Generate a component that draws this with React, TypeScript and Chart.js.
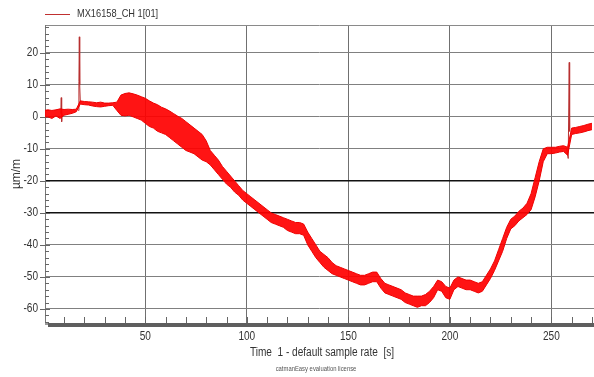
import React, { useEffect, useRef } from "react";
import { Chart, registerables } from "chart.js";

Chart.register(...registerables);

// Sample times (s)
const times = [
  0, 2, 4, 6, 8, 10, 12, 14, 16, 18, 20, 22, 24, 26, 28, 30, 32, 34, 36, 38,
  40, 42, 44, 46, 48, 50, 52, 54, 56, 58, 60, 62, 64, 66, 68, 70, 72, 74, 76, 78,
  80, 82, 84, 86, 88, 90, 92, 94, 96, 98, 100, 102, 104, 106, 108, 110, 112, 114, 116, 118,
  120, 122, 124, 126, 128, 130, 132, 134, 136, 138, 140, 142, 144, 146, 148, 150, 152, 154, 156, 158,
  160, 162, 164, 166, 168, 170, 172, 174, 176, 178, 180, 182, 184, 186, 188, 190, 192, 194, 196, 198,
  200, 202, 204, 206, 208, 210, 212, 214, 216, 218, 220, 222, 224, 226, 228, 230, 232, 234, 236, 238,
  240, 242, 244, 246, 248, 250, 252, 254, 256, 258, 260, 262, 264, 266, 268, 270,
];

// Upper envelope of the strain signal (µm/m)
const upper = [
  2, 2.2, 2, 2.2, 2.5, 2.3, 2.4, 2.3, 2.4, 5, 4.8, 4.7, 4.6, 4.4, 4.6, 4.3, 4.3, 4.4, 4.6, 6.8,
  7.3, 7.5, 7.2, 6.8, 6.3, 5.8, 5.0, 4.3, 3.8, 3.0, 2.5, 1.8, 1.0, 0.2, -0.5, -1.5, -2.5, -3.5, -4.5, -5.5,
  -7.5, -10.5, -12, -13.5, -15.5, -17, -18.5, -20, -21.5, -23, -24, -25, -26, -27, -28, -29, -30, -30.5, -31, -31.5,
  -32, -32.5, -33, -33, -33.5, -36, -38, -40, -42, -43, -44, -45.5, -46.5, -47, -47.5, -48, -48.5, -49, -49.5, -49.5,
  -49, -48.5, -48.5, -50.5, -52, -52.5, -53, -53.5, -54, -55, -55.5, -56, -56, -56, -55.5, -54.5, -53, -51, -51.5, -53,
  -53.5, -51, -50, -50.5, -51, -51, -51.5, -52, -51.5, -49.5, -47.5, -45, -41.5, -38, -34.5, -32, -31, -29.5, -28.5, -27,
  -24, -19, -14, -10, -9.5, -9.5, -9.5, -9.2, -9, -9.5, -3.5, -3.3, -3, -2.7, -2.3, -2,
];

// Lower envelope of the strain signal (µm/m)
const lower = [
  0, 0, -0.5, 0.3, -0.5, 0.5, 0.8, 1.1, 1.6, 4, 3.8, 3.7, 3.4, 3.2, 3.1, 3.3, 3.5, 3.6, 2.0, 0.5,
  0.3, 0.5, 0, -0.5, -1, -2, -3, -3.5, -4.5, -5, -5.5, -6.5, -7.5, -8.5, -9.5, -10.5, -11, -11.5, -12.5, -13.5,
  -14, -15, -16.5, -18, -19.5, -21, -22, -23.5, -24.5, -26, -27, -28, -29, -30, -31, -32, -33, -33.5, -34, -34.5,
  -35.5, -36, -36.5, -36.5, -37, -40, -42, -44, -45.5, -47, -48, -49, -49.5, -50, -50.5, -51, -51.5, -52, -52.5, -52.5,
  -52, -51.5, -51.5, -53.5, -55, -55.5, -56, -56.5, -57, -58, -58.5, -59, -59.5, -59, -59, -58, -56.5, -54, -54.5, -56.5,
  -57, -54, -53, -53.5, -54, -54, -54.5, -55, -54.5, -52.5, -50.5, -48, -45, -42, -38, -35, -34, -32.5, -31.5, -30.5,
  -29, -25, -20, -14, -11.5, -11.5, -11.3, -11, -10.8, -12, -5.5, -5.2, -5, -4.7, -4.3, -4,
];

// Short transients (spikes)
const spikeTimes = [8.4, 8.6, 8.8, 9.0, null, 17.0, 17.3, 17.5, 17.7, 18.0, null, 257.6, 258.3, 258.8, 259.0, 259.3];
const spikeValues = [1, 6, -1.5, 1, null, 2, 11, 25, 10, 4.5, null, -10, -13, 17, -4.5, -4.5];

const xTicks = [50, 100, 150, 200, 250];
const yTicks = [20, 10, 0, -10, -20, -30, -40, -50, -60];
const seriesName = "MX16158_CH 1[01]";
const xTitle = "Time  1 - default sample rate  [s]";
const yTitle = "µm/m";
const licenseText = "catmanEasy evaluation license";

const FONT = "'Liberation Sans', sans-serif";
const SQUEEZE = 0.84;

function narrowText(ctx: CanvasRenderingContext2D, text: string, x: number, y: number, align: "left" | "center" | "right") {
  ctx.save();
  ctx.translate(x, y);
  ctx.scale(SQUEEZE, 1);
  ctx.textAlign = align;
  ctx.textBaseline = "middle";
  ctx.fillText(text, 0, 0);
  ctx.restore();
}

export default function App() {
  const ref = useRef<HTMLCanvasElement | null>(null);

  useEffect(() => {
    const canvas = ref.current;
    if (!canvas) return;

    const decor = {
      id: "decor",
      beforeDatasetsDraw(chart: any) {
        const { ctx, chartArea } = chart;
        const xs = chart.scales.x;
        const ys = chart.scales.y;
        ctx.save();
        ctx.strokeStyle = "#8a8a8a";
        ctx.lineWidth = 1;
        ctx.beginPath();
        ctx.moveTo(chartArea.left, chartArea.top + 0.5);
        ctx.lineTo(chartArea.right, chartArea.top + 0.5);
        ctx.stroke();
        ctx.strokeStyle = "#777";
        ctx.beginPath();
        ctx.moveTo(chartArea.left + 0.5, chartArea.top);
        ctx.lineTo(chartArea.left + 0.5, chartArea.bottom);
        ctx.stroke();
        ctx.strokeStyle = "#666";
        for (let v = -64; v <= 28; v += 2) {
          const py = Math.round(ys.getPixelForValue(v)) + 0.5;
          const major = v % 10 === 0;
          ctx.beginPath();
          ctx.moveTo(chartArea.left - (major ? 5 : 0), py);
          ctx.lineTo(chartArea.left + (major ? 5 : 4), py);
          ctx.stroke();
        }
        for (let t = 10; t <= 270; t += 10) {
          const px = Math.round(xs.getPixelForValue(t)) + 0.5;
          ctx.beginPath();
          ctx.moveTo(px, chartArea.bottom);
          ctx.lineTo(px, chartArea.bottom - 6);
          ctx.stroke();
        }
        ctx.restore();
      },
      afterDraw(chart: any) {
        const { ctx, chartArea } = chart;
        const xs = chart.scales.x;
        const ys = chart.scales.y;
        ctx.save();
        ctx.fillStyle = "#5e5e5e";
        ctx.fillRect(chartArea.left + 3, chartArea.bottom, chartArea.right - chartArea.left, 4);
        ctx.fillStyle = "#9a9a9a";
        ctx.fillRect(chartArea.left, chartArea.bottom, 3, 2);
        // tick labels
        ctx.fillStyle = "#333";
        ctx.font = "12px " + FONT;
        xTicks.forEach((v) => narrowText(ctx, String(v), xs.getPixelForValue(v), 337, "center"));
        yTicks.forEach((v) => narrowText(ctx, String(v), 38, ys.getPixelForValue(v), "right"));
        // legend
        ctx.strokeStyle = "#c03030";
        ctx.lineWidth = 1;
        ctx.beginPath();
        ctx.moveTo(45, 14.5);
        ctx.lineTo(70, 14.5);
        ctx.stroke();
        ctx.fillStyle = "#333";
        ctx.font = "11px " + FONT;
        narrowText(ctx, seriesName, 77, 14, "left");
        // x title
        ctx.font = "12px " + FONT;
        narrowText(ctx, xTitle, 322, 353, "center");
        // license
        ctx.font = "7px " + FONT;
        ctx.fillStyle = "#555";
        narrowText(ctx, licenseText, 316, 369, "center");
        // y title
        ctx.translate(17, (chartArea.top + chartArea.bottom) / 2);
        ctx.rotate(-Math.PI / 2);
        ctx.font = "12px " + FONT;
        ctx.fillStyle = "#333";
        ctx.textAlign = "center";
        ctx.textBaseline = "middle";
        ctx.fillText(yTitle, 0, 0);
        ctx.restore();
      },
    };

    const pts = (ys: number[]) => times.map((t, i) => ({ x: t, y: ys[i] }));
    const spikes = spikeTimes.map((t, i) => ({ x: t === null ? NaN : t, y: spikeValues[i] }));

    const chart = new Chart(canvas, {
      type: "line",
      data: {
        datasets: [
          {
            label: "lower",
            data: pts(lower),
            borderColor: "#ee0000",
            borderWidth: 1,
            pointRadius: 0,
            fill: false,
            tension: 0,
          },
          {
            label: seriesName,
            data: pts(upper),
            borderColor: "#ee0000",
            borderWidth: 1,
            backgroundColor: "rgba(255,0,0,0.92)",
            pointRadius: 0,
            fill: "-1",
            tension: 0,
          },
          {
            label: "spikes",
            data: spikes as any,
            borderColor: "#b83030",
            borderWidth: 1,
            pointRadius: 0,
            fill: false,
            spanGaps: false,
            tension: 0,
          },
        ],
      },
      options: {
        animation: false,
        responsive: false,
        maintainAspectRatio: false,
        layout: { padding: { top: 25, right: 0, left: 0, bottom: 0 } },
        plugins: { legend: { display: false }, tooltip: { enabled: false } },
        scales: {
          x: {
            type: "linear",
            min: 0.6,
            max: 271,
            afterFit: (s: any) => {
              s.height = 54;
            },
            afterBuildTicks: (s: any) => {
              s.ticks = xTicks.map((v) => ({ value: v }));
            },
            ticks: { display: false },
            grid: { color: "#707070", lineWidth: 1, drawTicks: false },
            border: { display: false },
          },
          y: {
            type: "linear",
            min: -64.4,
            max: 28.7,
            afterFit: (s: any) => {
              s.width = 45;
            },
            afterBuildTicks: (s: any) => {
              s.ticks = yTicks.map((v) => ({ value: v }));
            },
            ticks: { display: false },
            grid: {
              color: (c: any) =>
                c.tick && (c.tick.value === -20 || c.tick.value === -30) ? "#111" : "#808080",
              lineWidth: (c: any) =>
                c.tick && (c.tick.value === -20 || c.tick.value === -30) ? 1.6 : 1,
              drawTicks: false,
            },
            border: { display: false },
          },
        },
      },
      plugins: [decor],
    } as any);

    return () => chart.destroy();
  }, []);

  return (
    <div style={{ position: "fixed", left: 0, top: 0, width: 594, height: 377, background: "#fff" }}>
      <canvas ref={ref} width={594} height={377} style={{ display: "block" }} />
    </div>
  );
}
